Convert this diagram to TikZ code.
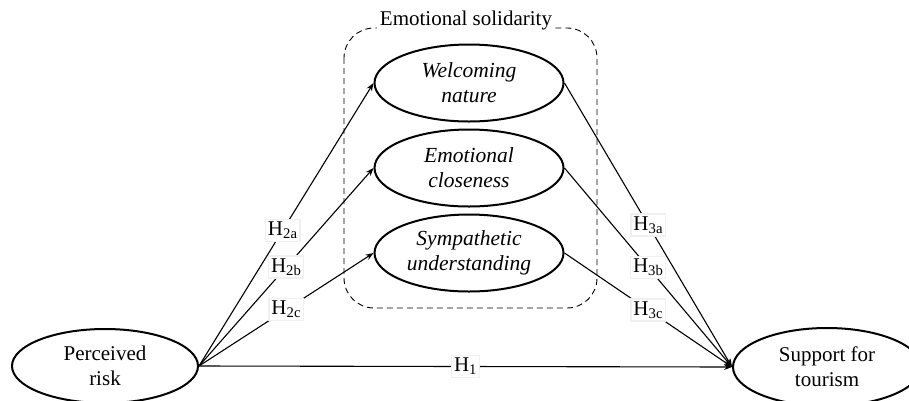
\documentclass[tikz,border=0pt]{standalone}
\usepackage{fontspec}
\setmainfont{Liberation Serif}
\usetikzlibrary{shapes.geometric,arrows.meta}
\begin{document}
\begin{tikzpicture}[x=1pt,y=-1pt,
  latent/.style={draw, ellipse, line width=2pt, inner sep=0pt, align=center,
    font=\fontsize{21}{25}\selectfont},
  ilatent/.style={latent, minimum width=189pt, minimum height=77pt,
    font=\fontsize{21.5}{25}\selectfont\itshape},
  lbl/.style={fill=white, draw=black!6, inner sep=2.5pt, font=\fontsize{21}{25}\selectfont},
  path/.style={line width=1.1pt, -{Stealth[length=8pt,width=6pt]}},
  every node/.append style={text=black}]
\useasboundingbox (0,0) rectangle (909,400);
% dashed container
\draw[line width=0.9pt, dash pattern=on 6pt off 4pt, rounded corners=30pt]
  (344,28) rectangle (597,308);
\node[fill=white, inner sep=3pt, font=\fontsize{21}{25}\selectfont] (es) at (466,20) {Emotional solidarity};
% latent variables
\node[latent, minimum width=186pt, minimum height=74pt] (pr) at (105,366) {Perceived\\risk};
\node[latent, minimum width=188pt, minimum height=78pt] (st) at (827,367) {Support for\\tourism};
\node[ilatent] (wn) at (469,83) {Welcoming\\nature};
\node[ilatent] (ec) at (469,168) {Emotional\\closeness};
\node[ilatent] (su) at (469,253) {Sympathetic\\understanding};
% paths
\draw[path] (pr.east) -- node[lbl, pos=0.48] (h2a) {H\textsubscript{2a}} (wn.west);
\draw[path] (pr.east) -- node[lbl, pos=0.5] (h2b) {H\textsubscript{2b}} (ec.west);
\draw[path] (pr.east) -- node[lbl, pos=0.5] (h2c) {H\textsubscript{2c}} (su.west);
\draw[path] (wn.east) -- node[lbl, pos=0.5] (h3a) {H\textsubscript{3a}} (st.west);
\draw[path] (ec.east) -- node[lbl, pos=0.5] (h3b) {H\textsubscript{3b}} (st.west);
\draw[path] (su.east) -- node[lbl, pos=0.5] (h3c) {H\textsubscript{3c}} (st.west);
\draw[path] (pr.east) -- node[lbl, pos=0.5] (h1) {H\textsubscript{1}} (st.west);
\end{tikzpicture}
\end{document}
